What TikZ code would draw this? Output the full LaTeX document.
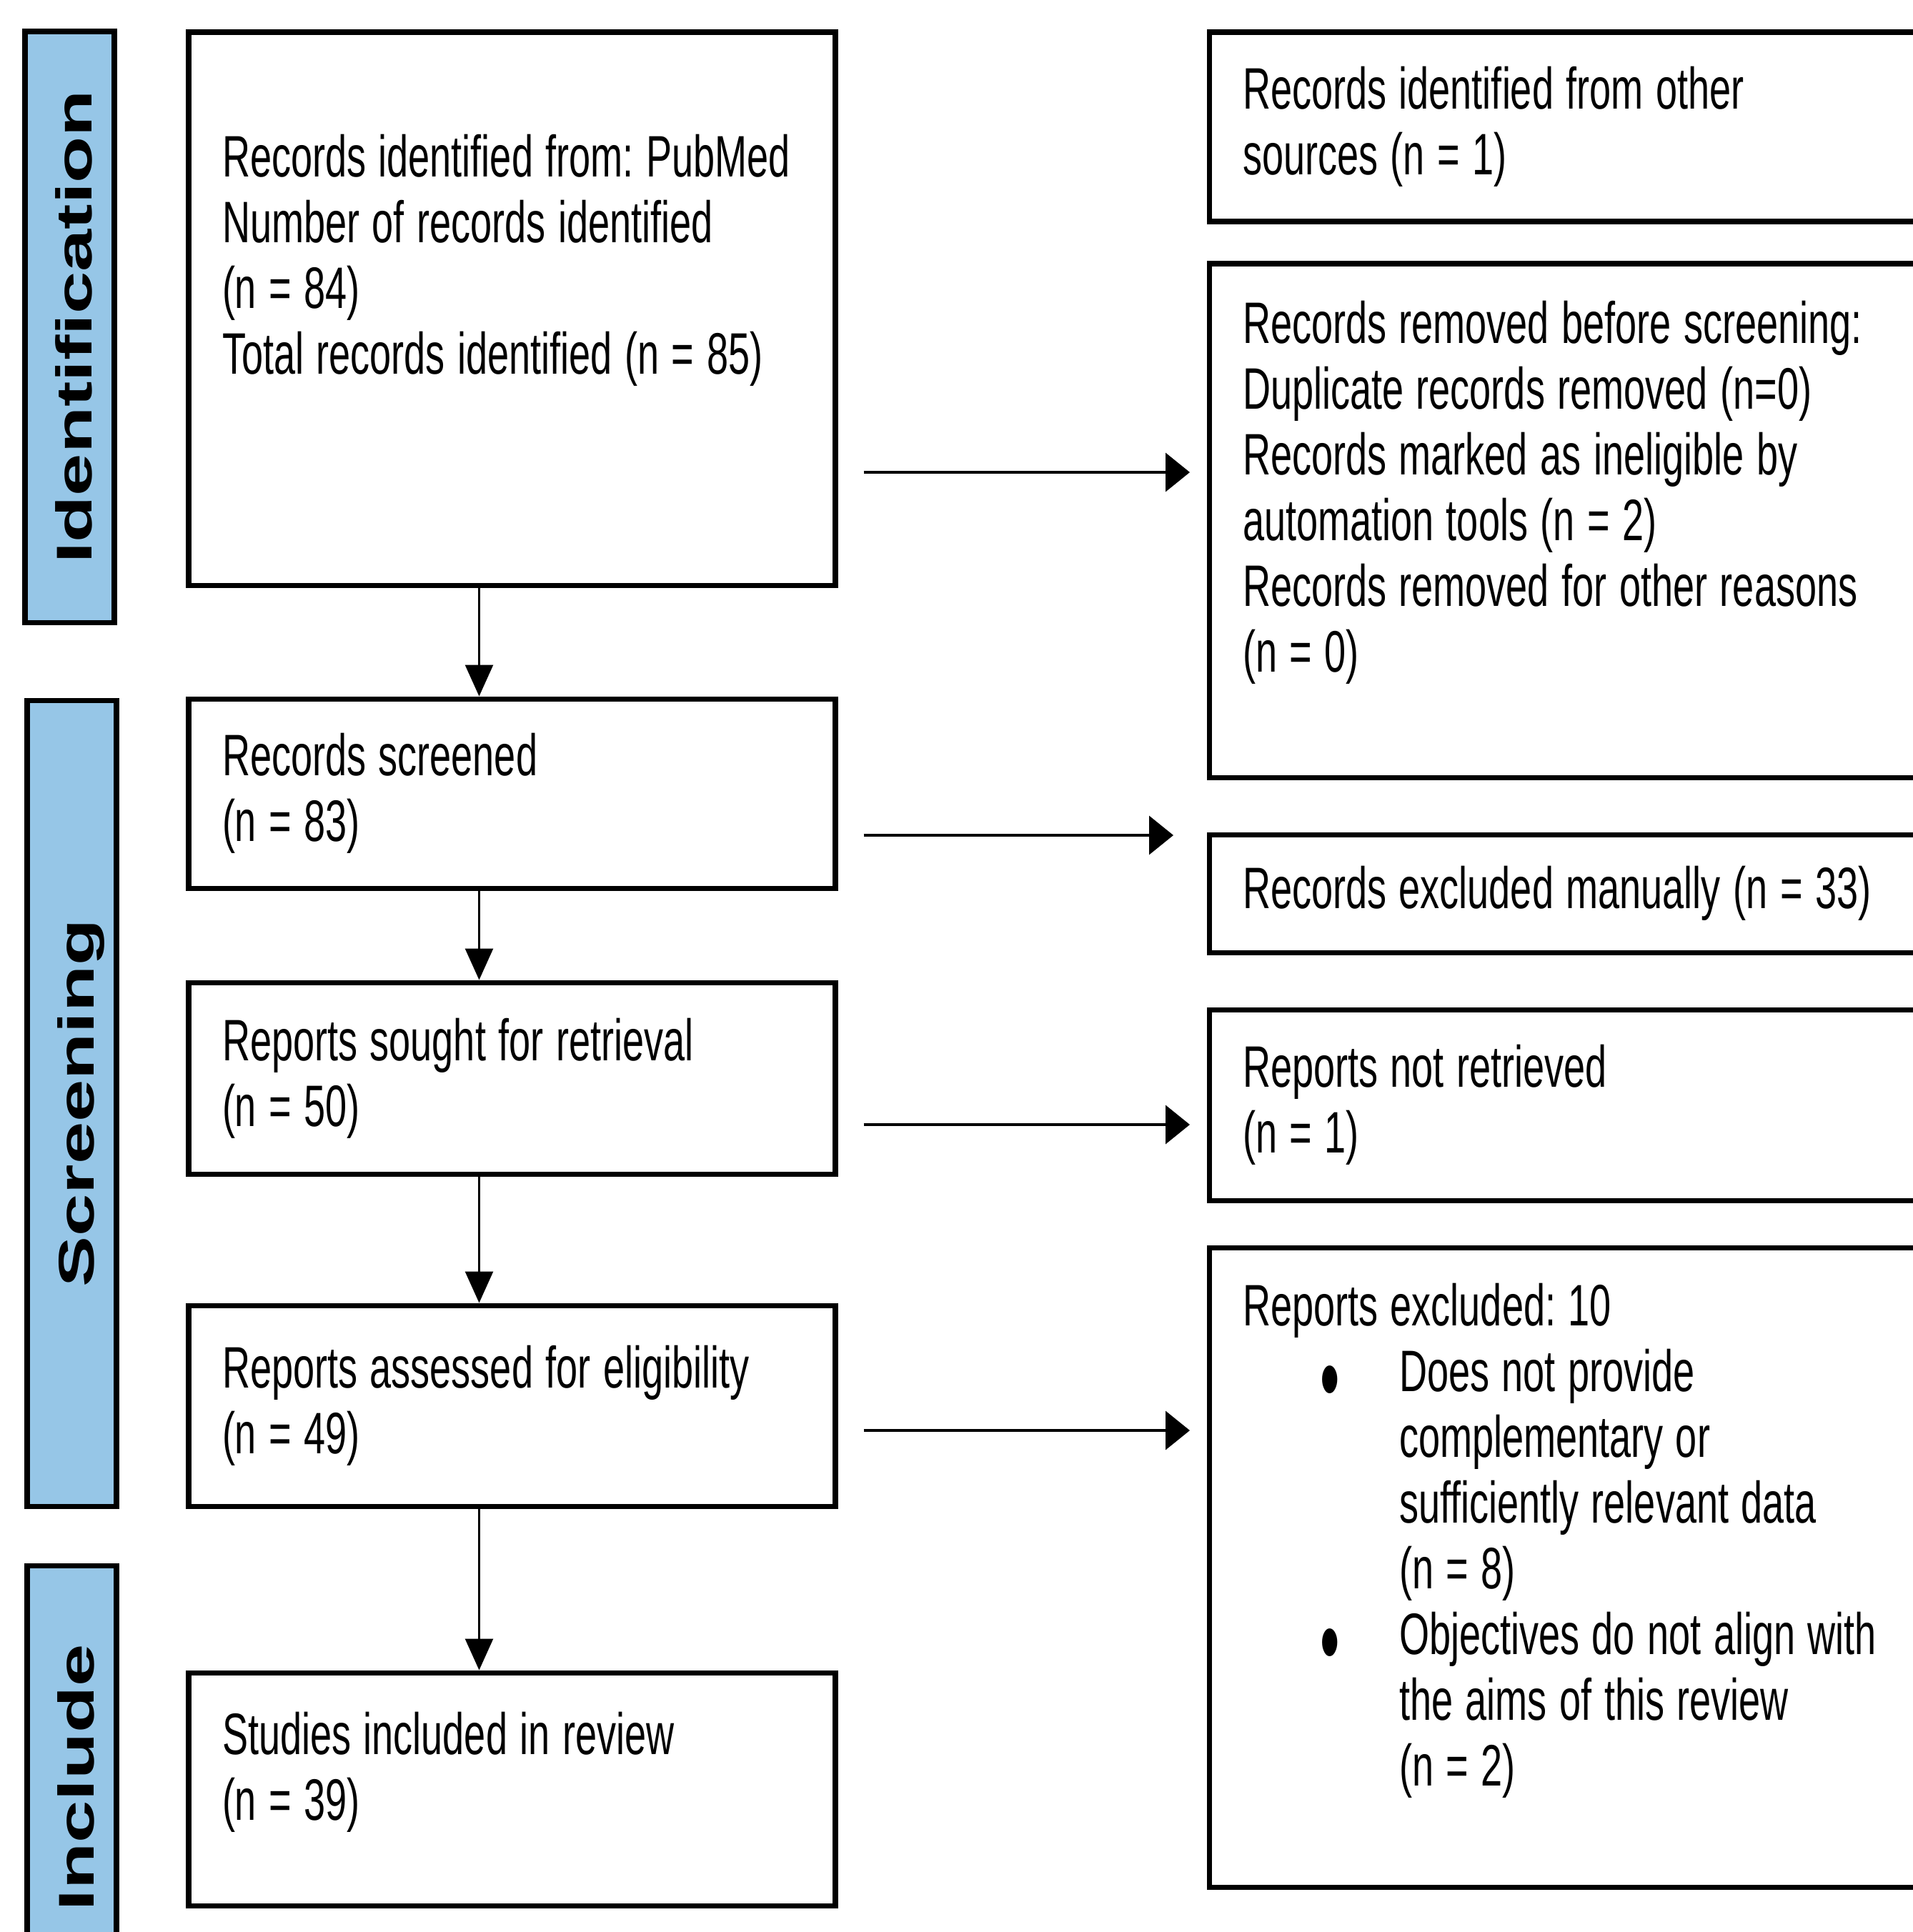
\documentclass[tikz,border=0pt]{standalone}
\usepackage{graphicx}
\usepackage{fontspec}
\setmainfont{Liberation Sans}[FakeStretch=0.66]
\newfontfamily\stagefont{Liberation Sans}
\usetikzlibrary{arrows.meta}
\definecolor{stageblue}{RGB}{150,198,231}
\newcommand{\flowbullet}{\makebox[2.19cm][l]{\hspace*{1.08cm}\smash{\raisebox{-0.31cm}{\scalebox{1.45}[1.75]{\textbullet}}}}}

\tikzset{
  flowbox/.style={rectangle, draw, line width=2pt, align=left, inner xsep=0.47cm, inner ysep=0pt,
    font=\fontsize{23.3}{26.2}\selectfont,
    execute at begin node={\spaceskip=5pt plus 1pt minus 1pt\relax\xspaceskip=5pt\relax}},
  leftbox/.style={flowbox, text width=8.11cm, minimum width=9.05cm},
  rightbox/.style={flowbox, text width=9.74cm, minimum width=10.68cm},
  stagebar/.style={rectangle, draw, line width=2pt, fill=stageblue, rotate=90, minimum height=1.25cm,
    text height=0.62cm, text depth=0pt, font=\fontsize{30.3}{36}\stagefont\bfseries},
  downarrow/.style={-{Triangle[length=0.44cm, width=0.39cm]}, line width=0.8pt},
  sidearrow/.style={-{Triangle[length=0.34cm, width=0.54cm]}, line width=1.1pt,
    shorten <=0.36cm, shorten >=0.235cm},
}

\begin{document}
\begin{tikzpicture}
  \useasboundingbox (0, 0) rectangle (26.77, -27.04);
  \clip (0, 0) rectangle (26.77, -27.04);
  % Stages
  \node (identification) [stagebar, minimum width=8.27cm] at (0.975, -4.575) {\scalebox{1}[0.66]{Identification}};
  \node (screening) [stagebar, minimum width=11.28cm] at (1.005, -15.44) {\scalebox{1}[0.66]{Screening}};
  \node (include) [stagebar, minimum width=5.94cm] at (1.005, -24.88) {\scalebox{1}[0.66]{Include}};
  % Nodes
  \node (identified) [leftbox, minimum height=7.74cm, text height=0.6cm, text depth=4.3cm] at (7.165, -4.32)
    {\mbox{Records identified from: PubMed}\\Number of records identified\\(n = 84)\\Total records identified (n = 85)};
  \node (screened) [leftbox, minimum height=2.65cm] at (7.165, -11.105) {Records screened\\(n = 83)};
  \node (sought) [leftbox, minimum height=2.68cm] at (7.165, -15.09) {Reports sought for retrieval\\(n = 50)};
  \node (assessed) [leftbox, minimum height=2.81cm] at (7.165, -19.675) {Reports assessed for eligibility\\(n = 49)};
  \node (included) [leftbox, minimum height=3.26cm, text height=0.6cm, text depth=1.58cm] at (7.165, -25.04)
    {Studies included in review\\(n = 39)};
  \node (other) [rightbox, minimum height=2.65cm] at (22.26, -1.775) {Records identified from other\\sources (n = 1)};
  \node (removed) [rightbox, minimum height=7.19cm, text height=0.6cm, text depth=5.57cm] at (22.26, -7.285)
    {Records removed before screening:\\Duplicate records removed (n=0)\\Records marked as ineligible by\\automation tools (n = 2)\\Records removed for other reasons\\(n = 0)};
  \node (manual) [rightbox, minimum height=1.65cm] at (22.26, -12.505) {Records excluded manually (n = 33)};
  \node (notretrieved) [rightbox, minimum height=2.67cm] at (22.26, -15.465) {Reports not retrieved\\(n = 1)};
  \node (excluded) [rightbox, minimum height=8.95cm, text height=0.6cm, text depth=7.37cm] at (22.26, -21.935)
    {Reports excluded: 10\\
     \flowbullet Does not provide\\
     \hspace*{2.19cm}complementary or\\
     \hspace*{2.19cm}sufficiently relevant data\\
     \hspace*{2.19cm}(n = 8)\\
     \flowbullet Objectives do not align with\\
     \hspace*{2.19cm}the aims of this review\\
     \hspace*{2.19cm}(n = 2)};
  % Arrow
  \draw[downarrow] ([xshift=-0.46cm]identified.south) -- ([xshift=-0.46cm]screened.north);
  \draw[downarrow] ([xshift=-0.46cm]screened.south) -- ([xshift=-0.46cm]sought.north);
  \draw[downarrow] ([xshift=-0.46cm]sought.south) -- ([xshift=-0.46cm]assessed.north);
  \draw[downarrow] ([xshift=-0.46cm]assessed.south) -- ([xshift=-0.46cm]included.north);
  \coordinate (from-identified) at ([yshift=-2.29cm]identified.east);
  \coordinate (from-screened) at ([yshift=-0.585cm]screened.east);
  \coordinate (from-sought) at ([yshift=-0.65cm]sought.east);
  \coordinate (from-assessed) at ([yshift=-0.345cm]assessed.east);
  \draw[sidearrow] (from-identified) -- (from-identified -| removed.west);
  \draw[sidearrow, shorten >=0.465cm] (from-screened) -- (from-screened -| manual.west);
  \draw[sidearrow] (from-sought) -- (from-sought -| notretrieved.west);
  \draw[sidearrow] (from-assessed) -- (from-assessed -| excluded.west);
\end{tikzpicture}
\end{document}
